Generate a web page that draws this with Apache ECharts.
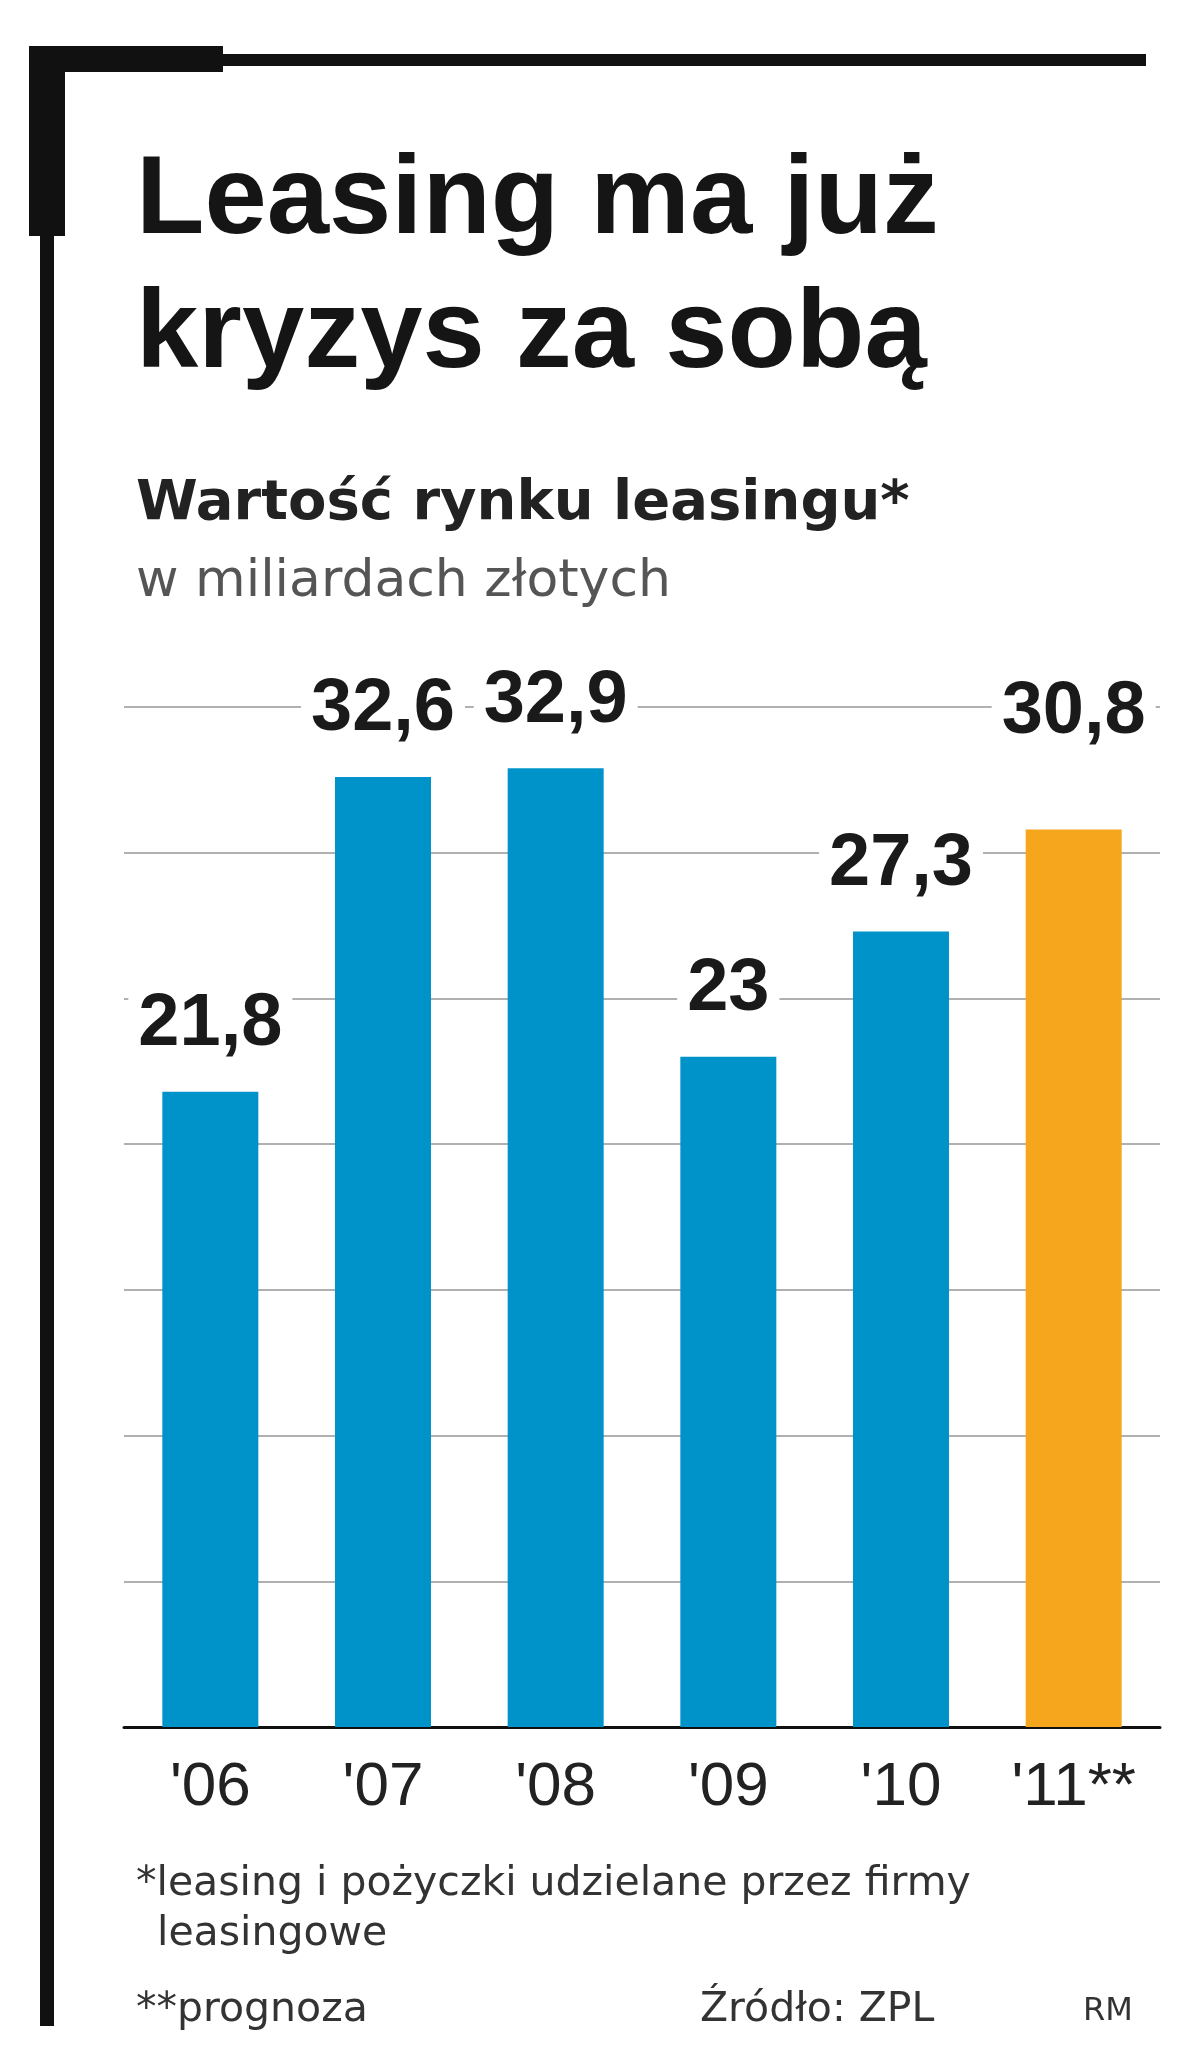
<!DOCTYPE html><html><head><meta charset="utf-8"><style>body{margin:0;background:#fff}#c{width:1200px;height:2050px}</style>
<script src="https://cdn.jsdelivr.net/npm/echarts@6/dist/echarts.min.js"></script></head><body><div id="c"></div><script>
const categories=["'06","'07","'08","'09","'10","'11**"];
const values=[21.8,32.6,32.9,23,27.3,30.8];
const labels=["21,8","32,6","32,9","23","27,3","30,8"];
const forecastIndex=5;
const c=echarts.init(document.getElementById('c'));
const F='"Liberation Sans", Arial, sans-serif';
const D='"DejaVu Sans", sans-serif';
c.setOption({
animation:false,
grid:{left:124,right:40,top:707,bottom:2050-1727},
xAxis:{type:'category',data:categories,axisLine:{lineStyle:{color:'#111',width:3}},axisTick:{show:false},
 axisLabel:{fontFamily:F,fontSize:62,color:'#222',margin:30}},
yAxis:{type:'value',min:0,max:35,interval:5,axisLabel:{show:false},axisLine:{show:false},axisTick:{show:false},
 splitLine:{lineStyle:{color:'#b0b0b0',width:2}}},
series:[{type:'bar',barWidth:96,z:3,
 data:values.map((v,i)=>({value:v,itemStyle:{color:i===forecastIndex?'#f5a61c':'#0093c9'},
  label:{distance:i===forecastIndex?80:30}})),
 label:{show:true,position:'top',formatter:p=>labels[p.dataIndex],fontFamily:F,fontWeight:'bold',fontSize:74,color:'#1a1a1a',
  backgroundColor:'#fff',padding:[0,10]}}],
graphic:[
 {type:'rect',shape:{x:29,y:54,width:1117,height:12},style:{fill:'#111'}},
 {type:'rect',shape:{x:29,y:46,width:194,height:26},style:{fill:'#111'}},
 {type:'rect',shape:{x:40,y:46,width:14,height:1980},style:{fill:'#111'}},
 {type:'rect',shape:{x:29,y:46,width:36,height:190},style:{fill:'#111'}},
 {type:'text',left:136,top:146,style:{text:'Leasing ma już',font:'bold 112px '+F,fill:'#151515'}},
 {type:'text',left:136,top:280,style:{text:'kryzys za sobą',font:'bold 112px '+F,fill:'#151515'}},
 {type:'text',left:136,top:476,style:{text:'Wartość rynku leasingu*',font:'bold 56px '+D,fill:'#222'}},
 {type:'text',left:136,top:556,style:{text:'w miliardach złotych',font:'52px '+D,fill:'#555'}},
 {type:'text',left:136,top:1864,style:{text:'*leasing i pożyczki udzielane przez firmy',font:'41px '+D,fill:'#333'}},
 {type:'text',left:157,top:1914,style:{text:'leasingowe',font:'41px '+D,fill:'#333'}},
 {type:'text',left:136,top:1990,style:{text:'**prognoza',font:'41px '+D,fill:'#333'}},
 {type:'text',left:700,top:1990,style:{text:'Źródło: ZPL',font:'41px '+D,fill:'#333'}},
 {type:'text',left:1083,top:1996,style:{text:'RM',font:'32px '+D,fill:'#333'}}
]});
</script></body></html>
